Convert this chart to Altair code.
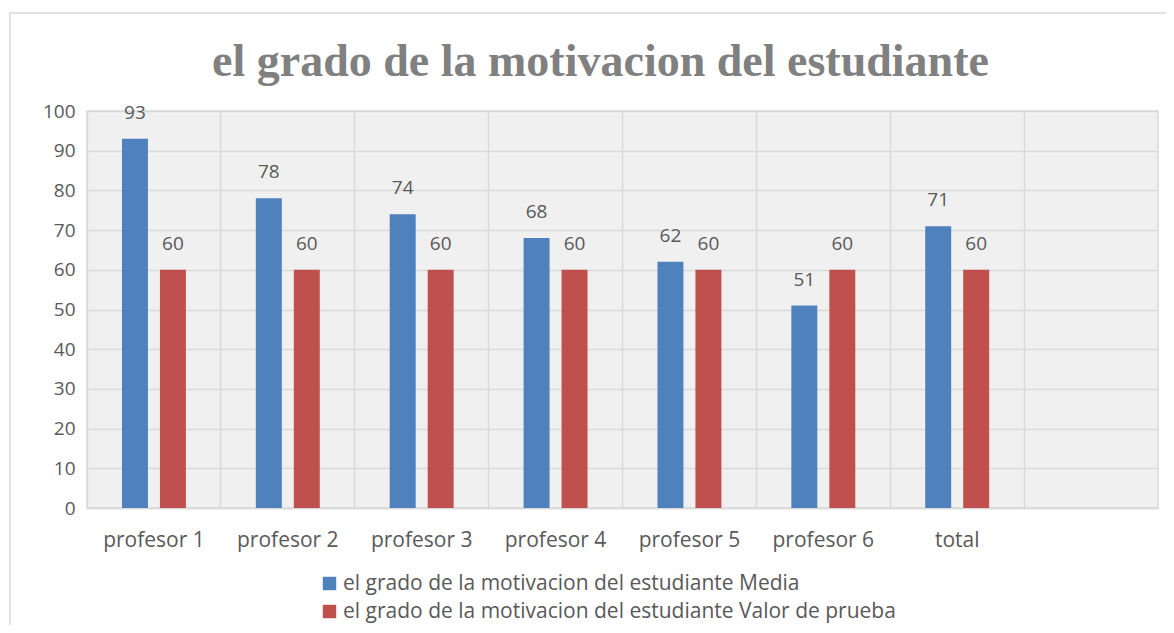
import altair as alt
import pandas as pd

categories = ["profesor 1", "profesor 2", "profesor 3", "profesor 4", "profesor 5", "profesor 6", "total"]
media = [93, 78, 74, 68, 62, 51, 71]
valor_prueba = [60, 60, 60, 60, 60, 60, 60]
series_names = ["el grado de la motivacion del estudiante Media",
                "el grado de la motivacion del estudiante Valor de prueba"]
x_domain = categories + [" "]

rows = []
for c, m, v in zip(categories, media, valor_prueba):
    rows.append({"cat": c, "serie": series_names[0], "val": m})
    rows.append({"cat": c, "serie": series_names[1], "val": v})
df = pd.DataFrame(rows)

FONT = "Open Sans"
TXT = "#595959"
FS = 19
FS_TXT = 21

base = alt.Chart(df).encode(
    x=alt.X("cat:N", sort=x_domain,
            scale=alt.Scale(domain=x_domain, paddingInner=0, paddingOuter=0),
            axis=alt.Axis(title=None, labelAngle=0, ticks=False, grid=True,
                          bandPosition=0, gridColor="#d9d9d9", gridWidth=1.5,
                          domainColor="#d9d9d9", domainWidth=1.5,
                          labelFont=FONT, labelFontSize=FS_TXT, labelColor=TXT, labelPadding=21)),
    xOffset=alt.XOffset("serie:N", sort=series_names,
                        scale=alt.Scale(domain=series_names, paddingInner=0.316, paddingOuter=0.921)),
    y=alt.Y("val:Q", scale=alt.Scale(domain=[0, 100]),
            axis=alt.Axis(title=None, values=list(range(0, 101, 10)), ticks=False, domain=False,
                          gridColor="#d9d9d9", gridWidth=1.5,
                          labelFont=FONT, labelFontSize=FS, labelColor=TXT, labelPadding=12)),
)

bars = base.mark_bar().encode(
    color=alt.Color("serie:N", sort=series_names,
                    scale=alt.Scale(domain=series_names, range=["#4F81BD", "#C0504D"]),
                    legend=alt.Legend(title=None, orient="none", legendX=232, legendY=462,
                                      direction="vertical", symbolType="square", symbolSize=180,
                                      symbolStrokeWidth=0, labelFont=FONT, labelFontSize=FS_TXT,
                                      labelColor=TXT, rowPadding=6, labelLimit=800, labelOffset=3))
)

labels = base.mark_text(dy=-16, font=FONT, fontSize=FS, color=TXT, baseline="bottom").encode(
    text="val:Q"
)

frame = alt.Chart(pd.DataFrame({"k": [0]})).mark_rect(
    fill=None, stroke="#d9d9d9", strokeWidth=1.5
).encode(x=alt.value(-77), x2=alt.value(1085), y=alt.value(-98), y2=alt.value(540))

chart = alt.layer(frame, bars, labels).properties(
    width=1071, height=397,
    padding={"left": 79, "top": 103, "right": 8, "bottom": 117},
    autosize=alt.AutoSizeParams(type="none"),
    title=alt.TitleParams("el grado de la motivacion del estudiante",
                          font="Liberation Serif", fontSize=46, fontWeight="bold",
                          color="#808080", anchor="middle", dx=-22, offset=0, dy=74, frame="group"),
).configure_view(fill="#f0f0f0", stroke="#d9d9d9", strokeWidth=1.5)

chart.save("out.html", embed_options={"renderer": "svg", "actions": False})
